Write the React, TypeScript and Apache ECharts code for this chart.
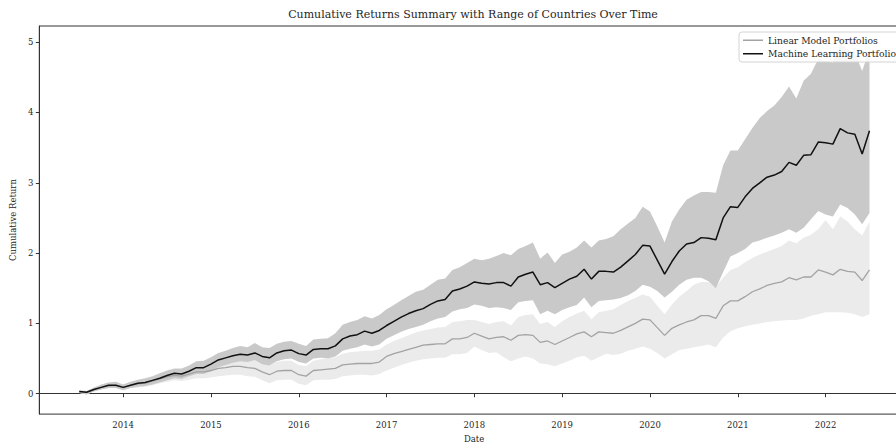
import React, { useEffect, useRef } from "react";
import * as echarts from "echarts";

// Monthly observations, first point July 2013
const START_YEAR = 2013;
const START_MONTH = 7;

const yearTicks = [2014, 2015, 2016, 2017, 2018, 2019, 2020, 2021, 2022];
const returnTicks = [0, 1, 2, 3, 4, 5];

// Machine learning portfolios: mean and range across countries
const mlMean = [
  0.03, 0.02, 0.06, 0.09, 0.12, 0.12,
  0.09, 0.12, 0.15, 0.16, 0.19, 0.22, 0.26, 0.29, 0.28, 0.32, 0.37, 0.37,
  0.42, 0.48, 0.51, 0.54, 0.56, 0.55, 0.58, 0.53, 0.51, 0.58, 0.61, 0.62,
  0.57, 0.55, 0.63, 0.64, 0.64, 0.68, 0.78, 0.82, 0.84, 0.89, 0.86, 0.90,
  0.97, 1.03, 1.09, 1.14, 1.18, 1.21, 1.27, 1.32, 1.34, 1.46, 1.49, 1.53,
  1.59, 1.57, 1.56, 1.58, 1.58, 1.53, 1.66, 1.70, 1.73, 1.55, 1.58, 1.51,
  1.57, 1.63, 1.67, 1.77, 1.63, 1.74, 1.74, 1.73, 1.80, 1.89, 1.98, 2.11,
  2.10, 1.90, 1.70, 1.88, 2.03, 2.13, 2.15, 2.22, 2.21, 2.19, 2.50, 2.66,
  2.65, 2.80, 2.92, 3.00, 3.08, 3.11, 3.16, 3.29, 3.25, 3.39, 3.40, 3.58,
  3.57, 3.55, 3.77, 3.71, 3.69, 3.41, 3.74,
];
const mlHigh = [
  0.05, 0.04, 0.09, 0.13, 0.16, 0.17,
  0.13, 0.17, 0.20, 0.22, 0.25, 0.29, 0.33, 0.36, 0.36, 0.40, 0.46, 0.47,
  0.52, 0.58, 0.61, 0.65, 0.68, 0.66, 0.72, 0.66, 0.65, 0.71, 0.74, 0.75,
  0.71, 0.68, 0.77, 0.78, 0.79, 0.86, 0.98, 1.02, 1.05, 1.10, 1.07, 1.12,
  1.20, 1.26, 1.33, 1.39, 1.45, 1.48, 1.55, 1.62, 1.64, 1.76, 1.80, 1.86,
  1.92, 1.90, 1.92, 1.96, 2.00, 1.97, 2.06, 2.10, 2.15, 1.92, 2.01, 1.86,
  1.98, 2.02, 2.08, 2.18, 2.08, 2.18, 2.20, 2.24, 2.34, 2.42, 2.50, 2.66,
  2.59, 2.38, 2.15, 2.45, 2.62, 2.76, 2.82, 2.87, 2.87, 2.86, 3.25, 3.46,
  3.46, 3.62, 3.78, 3.92, 4.02, 4.10, 4.22, 4.37, 4.20, 4.45, 4.55, 4.76,
  4.73, 4.71, 4.98, 4.90, 4.85, 4.59, 4.90,
];
const mlLow = [
  0.01, -0.01, 0.03, 0.06, 0.08, 0.08,
  0.05, 0.08, 0.10, 0.11, 0.13, 0.16, 0.19, 0.22, 0.21, 0.25, 0.28, 0.28,
  0.32, 0.38, 0.41, 0.44, 0.46, 0.45, 0.48, 0.42, 0.40, 0.46, 0.49, 0.50,
  0.45, 0.43, 0.50, 0.51, 0.50, 0.53, 0.61, 0.64, 0.66, 0.70, 0.67, 0.70,
  0.78, 0.83, 0.88, 0.92, 0.95, 0.98, 1.03, 1.07, 1.09, 1.17, 1.20, 1.22,
  1.27, 1.25, 1.22, 1.23, 1.22, 1.19, 1.30, 1.32, 1.33, 1.13, 1.18, 1.13,
  1.19, 1.23, 1.26, 1.37, 1.23, 1.32, 1.33, 1.34, 1.36, 1.40, 1.46, 1.55,
  1.52, 1.46, 1.37, 1.45, 1.55, 1.62, 1.65, 1.65, 1.60, 1.50, 1.73, 1.95,
  2.00, 2.06, 2.15, 2.18, 2.22, 2.25, 2.29, 2.34, 2.29, 2.36, 2.48, 2.60,
  2.55, 2.52, 2.69, 2.64, 2.55, 2.41, 2.57,
];

// Linear model portfolios: mean and range across countries
const linMean = [
  0.03, 0.02, 0.06, 0.09, 0.11, 0.12,
  0.09, 0.12, 0.14, 0.15, 0.18, 0.21, 0.24, 0.26, 0.25, 0.28, 0.31, 0.31,
  0.33, 0.36, 0.37, 0.39, 0.39, 0.37, 0.36, 0.31, 0.27, 0.32, 0.33, 0.33,
  0.27, 0.25, 0.33, 0.34, 0.35, 0.36, 0.41, 0.42, 0.43, 0.43, 0.43, 0.45,
  0.53, 0.57, 0.60, 0.63, 0.66, 0.69, 0.70, 0.71, 0.71, 0.78, 0.78, 0.80,
  0.86, 0.82, 0.78, 0.80, 0.81, 0.76, 0.83, 0.84, 0.83, 0.73, 0.75, 0.70,
  0.75, 0.80, 0.85, 0.88, 0.81, 0.88, 0.87, 0.86, 0.90, 0.95, 1.00, 1.06,
  1.05, 0.94, 0.83, 0.93, 0.98, 1.02, 1.05, 1.11, 1.11, 1.07, 1.25, 1.32,
  1.32, 1.38, 1.45, 1.49, 1.54, 1.57, 1.59, 1.65, 1.62, 1.66, 1.66, 1.76,
  1.73, 1.69, 1.77, 1.74, 1.73, 1.61, 1.76,
];
const linHigh = [
  0.05, 0.04, 0.08, 0.12, 0.15, 0.16,
  0.12, 0.15, 0.18, 0.19, 0.23, 0.26, 0.30, 0.33, 0.32, 0.36, 0.40, 0.41,
  0.44, 0.48, 0.49, 0.51, 0.52, 0.50, 0.49, 0.45, 0.40, 0.45, 0.47, 0.47,
  0.41, 0.39, 0.47, 0.49, 0.50, 0.52, 0.57, 0.59, 0.60, 0.61, 0.61, 0.63,
  0.70, 0.75, 0.79, 0.83, 0.87, 0.90, 0.92, 0.94, 0.95, 1.02, 1.03, 1.05,
  1.05, 1.02, 0.99, 1.02, 1.03, 0.97, 1.09, 1.12, 1.13, 0.99, 1.02, 0.95,
  1.03, 1.09, 1.14, 1.18, 1.06, 1.16, 1.18, 1.20, 1.26, 1.32, 1.36, 1.41,
  1.38, 1.25, 1.13, 1.27, 1.38, 1.46, 1.55, 1.59, 1.59, 1.52, 1.65, 1.76,
  1.80, 1.87, 1.93, 1.98, 2.02, 2.06, 2.10, 2.18, 2.14, 2.22, 2.26, 2.34,
  2.47, 2.34, 2.52, 2.45, 2.34, 2.25, 2.45,
];
const linLow = [
  0.01, -0.01, 0.03, 0.06, 0.08, 0.08,
  0.05, 0.08, 0.09, 0.10, 0.12, 0.15, 0.17, 0.19, 0.18, 0.20, 0.22, 0.22,
  0.23, 0.25, 0.26, 0.27, 0.27, 0.25, 0.24, 0.19, 0.15, 0.19, 0.20, 0.20,
  0.14, 0.12, 0.19, 0.20, 0.20, 0.21, 0.25, 0.26, 0.27, 0.27, 0.26, 0.28,
  0.33, 0.37, 0.41, 0.44, 0.47, 0.49, 0.50, 0.51, 0.51, 0.56, 0.56, 0.58,
  0.67, 0.62, 0.58, 0.59, 0.52, 0.46, 0.50, 0.53, 0.50, 0.43, 0.42, 0.39,
  0.43, 0.47, 0.52, 0.54, 0.47, 0.52, 0.57, 0.55, 0.57, 0.61, 0.64, 0.67,
  0.64, 0.58, 0.50, 0.56, 0.62, 0.64, 0.66, 0.68, 0.70, 0.66, 0.80, 0.89,
  0.93, 0.96, 0.98, 1.00, 1.02, 1.03, 1.04, 1.05, 1.05, 1.07, 1.11, 1.13,
  1.16, 1.16, 1.16, 1.15, 1.13, 1.09, 1.13,
];

const FONT = "DejaVu Serif";
const INK = "#262626";

// Dates as fractional years (first of each month)
const monthDates: number[] = mlMean.map((_, i) => {
  const m = START_MONTH - 1 + i;
  return START_YEAR + Math.floor(m / 12) + (m % 12) / 12;
});

const pairs = (vals: number[]) => vals.map((v, i) => [monthDates[i], v]);

// Shaded min–max range, drawn as one polygon positioned by the axes
const bandSeries = (name: string, lo: number[], hi: number[], color: string) => ({
  type: "custom",
  name,
  silent: true,
  z: 1,
  data: [[monthDates[0], lo[0]]],
  encode: { x: 0, y: 1 },
  renderItem: (_params: any, api: any) => {
    const top = hi.map((v, i) => api.coord([monthDates[i], v]));
    const bottom = lo.map((v, i) => api.coord([monthDates[i], v])).reverse();
    return {
      type: "polygon",
      shape: { points: top.concat(bottom) },
      style: { fill: color, stroke: "none" },
    };
  },
});

export default function App() {
  const ref = useRef<HTMLDivElement>(null);

  useEffect(() => {
    if (!ref.current) return;
    const chart = echarts.init(ref.current, undefined, { renderer: "svg" });

    chart.setOption({
      animation: false,
      backgroundColor: "#ffffff",
      grid: {
        left: 37,
        top: 26,
        width: 872,
        height: 396,
        show: true,
        borderColor: "#333333",
        borderWidth: 1,
        backgroundColor: "transparent",
      },
      graphic: [
        {
          type: "text",
          x: 473,
          y: 14,
          style: {
            text: "Cumulative Returns Summary with Range of Countries Over Time",
            font: `11px "${FONT}"`,
            fill: INK,
            textAlign: "center",
            textVerticalAlign: "middle",
          },
        },
      ],
      legend: {
        data: ["Linear Model Portfolios", "Machine Learning Portfolios"],
        orient: "vertical",
        left: 739,
        top: 32,
        icon: "rect",
        itemWidth: 20,
        itemHeight: 1.5,
        itemGap: 3,
        padding: [3, 8, 3, 4],
        backgroundColor: "rgba(255,255,255,0.85)",
        borderColor: "#d4d4d4",
        borderWidth: 1,
        borderRadius: 3,
        selectedMode: false,
        textStyle: { fontFamily: FONT, fontSize: 9.2, color: INK, lineHeight: 10.5 },
      },
      xAxis: {
        type: "value",
        min: 2013.045,
        max: 2022.95,
        name: "Date",
        nameLocation: "middle",
        nameGap: 19,
        nameTextStyle: { fontFamily: FONT, fontSize: 8.5, color: INK },
        axisLine: { show: true, lineStyle: { color: "#333333", width: 1 } },
        axisTick: {
          show: true,
          customValues: yearTicks,
          length: 3.5,
          lineStyle: { color: "#333333" },
        },
        axisLabel: {
          customValues: yearTicks,
          formatter: (v: number) => String(Math.round(v)),
          fontFamily: FONT,
          fontSize: 8.5,
          color: INK,
          margin: 6,
        },
        splitLine: { show: false },
      },
      yAxis: {
        type: "value",
        min: -0.29,
        max: 5.23,
        name: "Cumulative Return",
        nameLocation: "middle",
        nameRotate: 90,
        nameGap: 21,
        nameTextStyle: { fontFamily: FONT, fontSize: 8.5, color: INK },
        axisLine: { show: true, lineStyle: { color: "#333333", width: 1 } },
        axisTick: {
          show: true,
          customValues: returnTicks,
          length: 3.5,
          lineStyle: { color: "#333333" },
        },
        axisLabel: {
          customValues: returnTicks,
          fontFamily: FONT,
          fontSize: 8.5,
          color: INK,
          margin: 6,
        },
        splitLine: { show: false },
      },
      series: [
        bandSeries("Linear range", linLow, linHigh, "#ebebeb"),
        bandSeries("Machine learning range", mlLow, mlHigh, "#c9c9c9"),
        {
          type: "line",
          name: "Linear Model Portfolios",
          data: pairs(linMean),
          symbol: "none",
          lineStyle: { color: "#a3a3a3", width: 1.3 },
          itemStyle: { color: "#a3a3a3" },
          z: 3,
        },
        {
          type: "line",
          name: "Machine Learning Portfolios",
          data: pairs(mlMean),
          symbol: "none",
          lineStyle: { color: "#111111", width: 1.5 },
          itemStyle: { color: "#111111" },
          z: 4,
        },
      ],
    });

    return () => chart.dispose();
  }, []);

  return (
    <div
      style={{
        position: "fixed",
        left: 0,
        top: 0,
        width: 896,
        height: 448,
        overflow: "hidden",
        background: "#fff",
      }}
    >
      <div ref={ref} style={{ width: 920, height: 448 }} />
    </div>
  );
}
